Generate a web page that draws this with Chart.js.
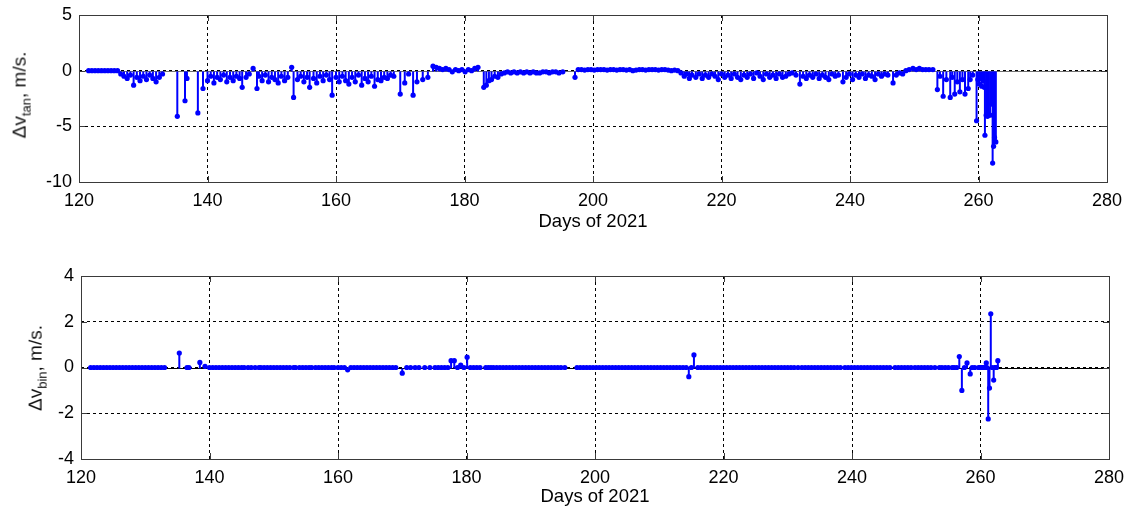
<!DOCTYPE html>
<html>
<head>
<meta charset="utf-8">
<script src="https://cdn.jsdelivr.net/npm/chart.js@4.4.1/dist/chart.umd.min.js"></script>
<style>
  body { margin: 0; background: #fff; width: 1129px; height: 510px; position: relative; overflow: hidden;
         font-family: "Liberation Sans", Arial, sans-serif; }
  canvas { position: absolute; left: 0; }
  .ylab { position: absolute; font-size: 19px; color: #111; white-space: nowrap;
          transform: translate(-50%, -50%) rotate(-90deg); }
  .ylab sub { font-size: 13px; }
</style>
</head>
<body>
<canvas id="tan" width="1129" height="245" style="top:0;width:1129px;height:245px"></canvas>
<canvas id="bin" width="1129" height="255" style="top:255px;width:1129px;height:255px"></canvas>
<div class="ylab" style="left:21px;top:95px">&Delta;v<sub>tan</sub>, m/s.</div>
<div class="ylab" style="left:37px;top:368px">&Delta;v<sub>bin</sub>, m/s.</div>
<script>
// epochs (day of year 2021), one row per stretch of the record
const days = [
  121.5, 122, 122.5, 123, 123.5, 124, 124.5, 125, 125.5, 126,
  126.5, 127, 127.5, 128, 128.5, 129, 129.5, 130, 130.5, 131, 131.5, 132, 132.5, 133,
  135.3, 136.5, 136.8, 138.5, 139.3,
  140, 140.5, 141, 141.5, 142, 142.5, 143, 143.5, 144, 144.5, 145, 145.4, 146, 146.5, 147.1, 147.7,
  148, 148.5, 149, 149.5, 150, 150.5, 151, 151.5, 152, 152.5, 153.1, 153.4,
  154, 154.5, 155, 155.5, 155.9, 156.5, 157, 157.5, 158, 158.5, 159, 159.4, 160, 160.5, 161, 161.5,
  162, 162.5, 163, 163.5, 164, 164.5, 165, 165.5, 166, 166.5, 167, 167.5, 168, 168.5, 169,
  170.0, 170.7, 171.3, 172.0, 172.6, 173.5, 174.3,
  175.1, 175.6, 176.1, 176.6, 177.1, 177.6, 178.1, 178.6, 179.1, 179.6, 180.1, 180.6, 181.1, 181.6, 182.1,
  183.0, 183.4, 183.8, 184.2, 184.7, 185.2, 185.7, 186.2, 186.7, 187.2, 187.7, 188.2, 188.7, 189.2,
  189.7, 190.2, 190.7, 191.2, 191.7, 192.2, 192.7, 193.2, 193.7, 194.2, 194.7, 195.3, 197.2,
  197.7, 198.2, 198.7, 199.2, 199.7, 200.2, 200.7, 201.2, 201.7, 202.2, 202.7, 203.2, 203.7, 204.2, 204.7, 205.2,
  205.7, 206.2, 206.7, 207.2, 207.7, 208.2, 208.7, 209.2, 209.7, 210.2, 210.7, 211.2, 211.7, 212.2, 212.7, 213.2,
  213.7, 214.2, 214.6, 215.0, 215.4, 216, 216.5, 217, 217.5, 218, 218.5, 219, 219.5, 220, 220.5, 221, 221.5, 222, 222.5,
  223, 223.5, 224, 224.5, 225, 225.5, 226, 226.5, 227, 227.5, 228, 228.5, 229, 229.5, 230, 230.5, 231, 231.6,
  232.2, 232.7, 233.2, 233.7, 234.2, 234.7, 235.2, 235.7, 236.2, 236.7, 237.2, 237.7, 238.2, 238.9, 239.4, 239.9,
  240.4, 240.9, 241.4, 241.9, 242.4, 242.9, 243.4, 243.9, 244.4, 244.9, 245.4, 245.9, 246.7, 247.2, 247.7, 248.2,
  248.7, 249.2, 249.8, 250.3, 250.8, 251.3, 251.8, 252.3, 252.9,
  253.6, 254.0, 254.5, 255.0, 255.6, 255.9, 256.3, 256.7, 257.1, 257.5, 257.9, 258.4, 258.7, 259.1,
  259.7, 259.9, 260.1, 260.3, 260.5, 260.7, 260.9, 261.0, 261.2, 261.4, 261.6, 261.8, 262.05, 262.2, 262.35, 262.5, 262.7
];

// tangential velocity correction, m/s
const dvTan = [
  0, 0, 0, 0, 0, 0, 0, 0, 0, 0,
  -0.3, -0.5, -0.7, -0.4, -1.3, -0.6, -0.9, -0.5, -0.8, -0.4, -0.7, -1.0, -0.6, -0.3,
  -4.1, -2.7, -0.7, -3.8, -1.6,
  -0.9, -0.5, -1.1, -0.6, -0.8, -0.4, -1.0, -0.6, -0.9, -0.5, -0.7, -1.5, -0.6, -0.3, 0.2, -1.6,
  -0.5, -0.9, -0.4, -1.0, -0.6, -0.8, -1.1, -0.5, -0.9, -0.6, 0.3, -2.4,
  -0.8, -0.5, -1.0, -0.6, -1.5, -0.7, -1.1, -0.5, -0.9, -0.4, -0.8, -2.2, -0.6, -1.0, -0.5, -0.9,
  -1.2, -0.6, -1.0, -0.4, -1.3, -0.7, -1.0, -0.5, -1.4, -0.8, -0.9, -0.6, -0.7, -0.4, -0.5,
  -2.1, -1.1, -0.3, -2.2, -1.0, -0.8, -0.6,
  0.4, 0.3, 0.2, 0.1, 0.2, 0.1, -0.1, 0.1, 0, 0.1, -0.1, 0.1, 0, 0.2, 0.3,
  -1.5, -1.3, -0.9, -0.8, -0.5, -0.6, -0.3, -0.2, -0.1, -0.2, -0.1, -0.2, -0.1, -0.2,
  -0.1, -0.2, -0.1, -0.2, -0.2, -0.1, -0.1, -0.2, -0.1, -0.1, -0.2, -0.1, -0.6,
  0.1, 0.1, 0.05, 0.1, 0.1, 0.05, 0.1, 0.1, 0.1, 0.05, 0.1, 0.1, 0.05, 0.1, 0.1, 0.05,
  0.1, 0, 0.05, 0.1, 0.1, 0.05, 0.1, 0.1, 0.1, 0.05, 0.1, 0.1, 0.05, 0, 0.05, 0,
  -0.2, -0.5, -0.3, -0.7, -0.4, -0.6, -0.3, -0.7, -0.4, -0.6, -0.3, -0.5, -0.8, -0.3, -0.6, -0.4, -0.7, -0.3, -0.6,
  -0.8, -0.4, -0.6, -0.3, -0.7, -0.2, -0.5, -0.8, -0.3, -0.6, -0.4, -0.7, -0.3, -0.6, -0.5, -0.3, -0.2, -0.4,
  -1.2, -0.5, -0.7, -0.4, -0.6, -0.3, -0.7, -0.4, -0.6, -0.8, -0.3, -0.5, -0.4, -1.0, -0.6, -0.3,
  -0.8, -0.4, -0.6, -0.3, -0.7, -0.4, -0.5, -0.8, -0.3, -0.5, -0.3, -0.4, -1.1, -0.4, -0.2, -0.3,
  0, 0.1, 0.2, 0.1, 0.2, 0.1, 0.1, 0.1, 0.1,
  -1.7, -0.5, -2.3, -0.8, -2.4, -0.6, -2.1, -1.0, -1.9, -0.8, -2.1, -1.6, -0.8, -0.4,
  -4.5, -0.8, -1.2, -0.7, -1.4, -0.9, -1.5, -5.8, -4.0, -4.1, -3.9, -4.0, -3.0, -8.3, -6.8, -6.0, -6.4
];

// binormal velocity correction, m/s
const dvBin = [
  0, 0, 0, 0, 0, 0, 0, 0, 0, 0,
  0, 0, 0, 0, 0, 0, 0, 0, 0, 0, 0, 0, 0, 0,
  0.63, 0, 0, 0.22, 0.05,
  0, 0, 0, 0, 0, 0, 0, 0, 0, 0, 0, 0, 0, 0, 0, 0,
  0, 0, 0, 0, 0, 0, 0, 0, 0, 0, 0, 0,
  0, 0, 0, 0, 0, 0, 0, 0, 0, 0, 0, 0, 0, 0, 0, -0.1,
  0, 0, 0, 0, 0, 0, 0, 0, 0, 0, 0, 0, 0, 0, 0,
  -0.25, 0, 0, 0, 0, 0, 0,
  0, 0, 0, 0, 0, 0.3, 0.3, 0, 0.1, 0, 0.45, 0, 0, 0, 0,
  0, 0, 0, 0, 0, 0, 0, 0, 0, 0, 0, 0, 0, 0,
  0, 0, 0, 0, 0, 0, 0, 0, 0, 0, 0, 0, 0,
  0, 0, 0, 0, 0, 0, 0, 0, 0, 0, 0, 0, 0, 0, 0, 0,
  0, 0, 0, 0, 0, 0, 0, 0, 0, 0, 0, 0, 0, 0, 0, 0,
  0, 0, -0.4, 0, 0.55, 0, 0, 0, 0, 0, 0, 0, 0, 0, 0, 0, 0, 0, 0,
  0, 0, 0, 0, 0, 0, 0, 0, 0, 0, 0, 0, 0, 0, 0, 0, 0, 0,
  0, 0, 0, 0, 0, 0, 0, 0, 0, 0, 0, 0, 0, 0, 0, 0,
  0, 0, 0, 0, 0, 0, 0, 0, 0, 0, 0, 0, 0, 0, 0, 0,
  0, 0, 0, 0, 0, 0, 0, 0, 0,
  0, 0, 0, 0, 0, 0, 0, 0.48, -1.0, 0, 0.2, -0.28, 0, 0,
  0, 0, 0, 0, 0, 0, 0.2, 0, -2.25, -0.9, 2.35, 0, -0.55, 0, 0, 0, 0.3
];

const xTicks = [120, 140, 160, 180, 200, 220, 240, 260, 280];
const tanTicks = [-10, -5, 0, 5];
const binTicks = [-4, -2, 0, 2, 4];

if (dvTan.length !== days.length || dvBin.length !== days.length) {
  throw new Error('length mismatch ' + days.length + ' ' + dvTan.length + ' ' + dvBin.length);
}

const FONT = '"Liberation Sans", Arial, sans-serif';

// matlab-like stems, baseline, box and inward tick marks
const stemPlugin = {
  id: 'stems',
  beforeDatasetsDraw(chart, args, opts) {
    const { ctx, chartArea: a, scales: { x, y } } = chart;
    const y0 = Math.round(y.getPixelForValue(0)) + 0.5;
    ctx.save();
    ctx.beginPath();
    ctx.rect(a.left, a.top, a.width, a.height);
    ctx.clip();
    ctx.strokeStyle = opts.baseColor;
    ctx.lineWidth = 1;
    ctx.beginPath();
    ctx.moveTo(a.left, y0);
    ctx.lineTo(a.right, y0);
    ctx.stroke();
    ctx.strokeStyle = '#0000ff';
    ctx.lineWidth = 2;
    chart.data.datasets[0].data.forEach((p) => {
      const px = x.getPixelForValue(p.x);
      ctx.beginPath();
      ctx.moveTo(px, y0);
      ctx.lineTo(px, y.getPixelForValue(p.y));
      ctx.stroke();
    });
    ctx.restore();
  },
  afterDraw(chart) {
    const { ctx, chartArea: a, scales: { x, y } } = chart;
    ctx.save();
    ctx.strokeStyle = '#3a3a3a';
    ctx.lineWidth = 1;
    ctx.beginPath();
    y.ticks.forEach((t) => {
      const py = Math.round(y.getPixelForValue(t.value)) + 0.5;
      ctx.moveTo(a.left, py); ctx.lineTo(a.left + 6, py);
      ctx.moveTo(a.right - 6, py); ctx.lineTo(a.right, py);
    });
    x.ticks.forEach((t) => {
      const px = Math.round(x.getPixelForValue(t.value)) + 0.5;
      ctx.moveTo(px, a.bottom); ctx.lineTo(px, a.bottom - 6);
      ctx.moveTo(px, a.top); ctx.lineTo(px, a.top + 6);
    });
    ctx.stroke();
    ctx.strokeRect(Math.round(a.left) + 0.5, Math.round(a.top) + 0.5,
                   Math.round(a.width), Math.round(a.height));
    ctx.restore();
  }
};

function makeChart(id, values, yTicks, cfg) {
  const pts = days.map((d, i) => ({ x: d, y: values[i] }));
  return new Chart(document.getElementById(id), {
    type: 'scatter',
    data: {
      datasets: [{
        data: pts,
        showLine: false,
        pointRadius: 2.6,
        pointBorderWidth: 0,
        pointBackgroundColor: '#0000ff',
        pointBorderColor: '#0000ff'
      }]
    },
    options: {
      responsive: false,
      animation: false,
      events: [],
      devicePixelRatio: 1,
      layout: { padding: { left: 0, right: cfg.padRight, top: cfg.padTop, bottom: 0 } },
      plugins: {
        legend: { display: false },
        tooltip: { enabled: false },
        stems: { baseColor: cfg.baseColor }
      },
      scales: {
        x: {
          type: 'linear',
          min: 120,
          max: 280,
          afterBuildTicks: (s) => { s.ticks = xTicks.map((v) => ({ value: v })); },
          afterFit: (s) => { s.height = cfg.xHeight; s.paddingLeft = 0; s.paddingRight = 0; },
          ticks: { color: '#000', font: { family: FONT, size: 18 }, padding: 8, maxRotation: 0 },
          grid: { color: '#000', lineWidth: 1, drawTicks: false },
          border: { display: false, dash: [3, 3] },
          title: {
            display: true,
            text: 'Days of 2021',
            color: '#000',
            font: { family: FONT, size: 18.5 },
            padding: { top: 0, bottom: cfg.titlePad }
          }
        },
        y: {
          min: yTicks[0],
          max: yTicks[yTicks.length - 1],
          afterBuildTicks: (s) => { s.ticks = yTicks.map((v) => ({ value: v })); },
          afterFit: (s) => { s.width = cfg.yWidth; s.paddingTop = 0; s.paddingBottom = 0; },
          ticks: { color: '#000', font: { family: FONT, size: 18 }, padding: 7 },
          grid: { color: '#000', lineWidth: 1, drawTicks: false },
          border: { display: false, dash: [3, 3] }
        }
      }
    },
    plugins: [stemPlugin]
  });
}

makeChart('tan', dvTan, tanTicks, {
  baseColor: '#707070', padRight: 22, padTop: 15, xHeight: 63, yWidth: 79, titlePad: 12
});
makeChart('bin', dvBin, binTicks, {
  baseColor: '#000000', padRight: 20, padTop: 21, xHeight: 51, yWidth: 81, titlePad: 2
});
</script>
</body>
</html>
